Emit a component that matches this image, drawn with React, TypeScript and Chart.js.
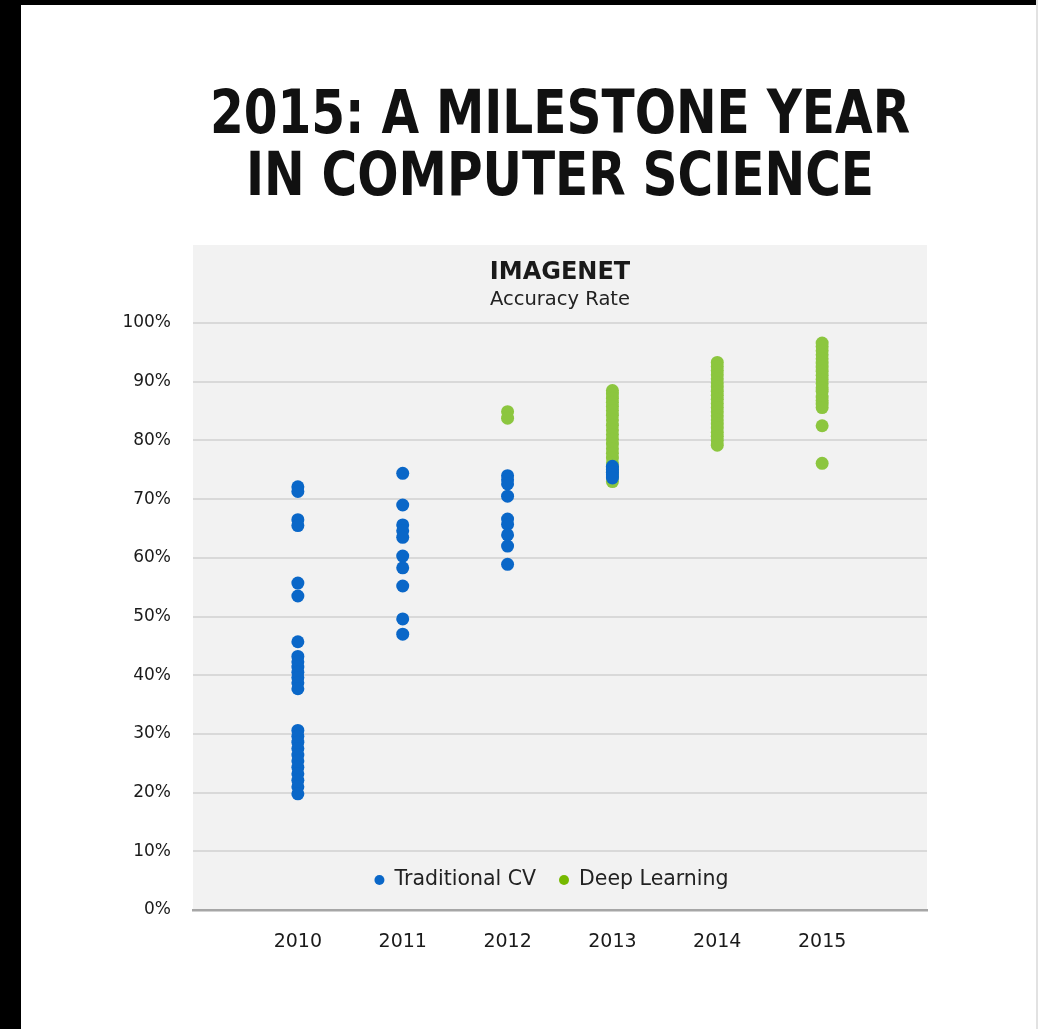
import React, { useEffect, useRef } from "react";
import { Chart, registerables } from "chart.js";

Chart.register(...registerables);

const titleLines = ["2015: A MILESTONE YEAR", "IN COMPUTER SCIENCE"];
const chartTitle = "IMAGENET";
const chartSubtitle = "Accuracy Rate";
const seriesNames = ["Traditional CV", "Deep Learning"];
const yearTicks = [2010, 2011, 2012, 2013, 2014, 2015];
const yTickValues = [0, 10, 20, 30, 40, 50, 60, 70, 80, 90, 100];

// Traditional CV accuracy (%) per year
const cv2010 = [72.1, 71.3, 66.5, 65.5, 55.7, 53.5, 45.7, 43.2, 42.3, 41.4, 40.5, 39.6, 38.7, 37.7, 30.6, 29.6, 28.6, 27.5, 26.4, 25.4, 24.3, 23.2, 22.1, 21.0, 19.8];
const cv2011 = [74.4, 69.0, 65.6, 64.6, 63.5, 60.3, 58.3, 55.2, 49.6, 47.0];
const cv2012 = [74.0, 73.3, 72.6, 70.5, 66.6, 65.7, 63.9, 62.0, 58.9];
const cv2013 = [75.6, 75.1, 74.6, 74.1, 73.6];

// Deep Learning accuracy (%) per year
const dl2012 = [84.9, 83.8];
const dl2013 = [88.5, 87.9, 87.2, 86.5, 85.8, 85.1, 84.3, 83.5, 82.6, 81.8, 81.0, 80.2, 79.4, 78.6, 77.8, 77.0, 76.2, 75.4, 74.6, 73.8, 73.0];
const dl2014 = [93.3, 92.6, 91.9, 91.2, 90.5, 89.8, 89.1, 88.4, 87.7, 87.0, 86.3, 85.6, 84.9, 84.2, 83.5, 82.8, 82.1, 81.4, 80.7, 80.0, 79.2];
const dl2015 = [96.6, 96.0, 95.3, 94.6, 93.9, 93.2, 92.5, 91.8, 91.1, 90.4, 89.7, 89.0, 88.4, 87.4, 86.8, 86.2, 85.6, 82.5, 76.1];

const BLUE = "#0a67c8";
const GREEN = "#8cc63f";
const LEGEND_GREEN = "#76b900";
const FONT = "'DejaVu Sans', sans-serif";

const toPoints = (year: number, vals: number[]) => vals.map((v) => ({ x: year, y: v }));

const bgPlugin = {
  id: "areaBg",
  beforeDraw(chart: any) {
    const { ctx, chartArea } = chart;
    ctx.save();
    ctx.fillStyle = "#f2f2f2";
    ctx.fillRect(chartArea.left, chartArea.top, chartArea.right - chartArea.left, chartArea.bottom - chartArea.top);
    ctx.restore();
  },
};

const textPlugin = {
  id: "areaText",
  afterDraw(chart: any) {
    const { ctx, chartArea } = chart;
    const cx = (chartArea.left + chartArea.right) / 2;
    ctx.save();
    ctx.textAlign = "center";
    ctx.textBaseline = "middle";
    ctx.fillStyle = "#1a1a1a";
    ctx.font = "bold 24px " + FONT;
    ctx.fillText(chartTitle, cx, chartArea.top + 28);
    ctx.font = "19.5px " + FONT;
    ctx.fillStyle = "#222";
    ctx.fillText(chartSubtitle, cx, chartArea.top + 55);

    // legend
    const ly = chartArea.bottom - 30;
    ctx.font = "20.5px " + FONT;
    ctx.textAlign = "left";
    const colors = [BLUE, LEGEND_GREEN];
    const w0 = ctx.measureText(seriesNames[0]).width;
    const w1 = ctx.measureText(seriesNames[1]).width;
    const gap = 28;
    const dotToText = 15;
    const total = 5 + dotToText + w0 + gap + dotToText + w1;
    let dotX = cx - 8.5 - total / 2 + 5;
    [w0, w1].forEach((w, i) => {
      ctx.fillStyle = colors[i];
      ctx.beginPath();
      ctx.arc(dotX, ly, 5, 0, Math.PI * 2);
      ctx.fill();
      ctx.fillStyle = "#222";
      ctx.fillText(seriesNames[i], dotX + dotToText, ly);
      dotX += dotToText + w + gap;
    });
    ctx.restore();
  },
};

export default function App() {
  const ref = useRef<HTMLCanvasElement | null>(null);

  useEffect(() => {
    if (!ref.current) return;
    const chart = new Chart(ref.current, {
      type: "scatter",
      data: {
        datasets: [
          {
            label: seriesNames[0],
            data: [
              ...toPoints(2010, cv2010),
              ...toPoints(2011, cv2011),
              ...toPoints(2012, cv2012),
              ...toPoints(2013, cv2013),
            ],
            backgroundColor: BLUE,
            borderColor: BLUE,
            borderWidth: 0,
            pointRadius: 6.5,
          },
          {
            label: seriesNames[1],
            data: [
              ...toPoints(2012, dl2012),
              ...toPoints(2013, dl2013),
              ...toPoints(2014, dl2014),
              ...toPoints(2015, dl2015),
            ],
            backgroundColor: GREEN,
            borderColor: GREEN,
            borderWidth: 0,
            pointRadius: 6.5,
          },
        ],
      },
      plugins: [bgPlugin, textPlugin],
      options: {
        animation: false,
        responsive: false,
        maintainAspectRatio: false,
        layout: { padding: { left: 0, top: 245, right: 111, bottom: 0 } },
        plugins: {
          legend: { display: false },
          tooltip: { enabled: false },
          title: { display: false },
        },
        scales: {
          x: {
            type: "linear",
            min: 2009,
            max: 2016,
            afterBuildTicks: (scale: any) => {
              scale.ticks = yearTicks.map((v) => ({ value: v }));
            },
            afterFit: (scale: any) => {
              scale.height = 119;
            },
            grid: { display: false, drawTicks: false },
            border: { display: true, color: "#a6a6a6", width: 2.5 },
            ticks: {
              padding: 21,
              color: "#1a1a1a",
              font: { family: FONT, size: 19 },
              callback: (v: any) => String(v),
            },
          },
          y: {
            min: 0,
            max: 113.3,
            afterBuildTicks: (scale: any) => {
              scale.ticks = yTickValues.map((v) => ({ value: v }));
            },
            afterFit: (scale: any) => {
              scale.width = 193;
            },
            grid: {
              drawTicks: false,
              lineWidth: 2,
              color: (c: any) => (c.tick && c.tick.value === 0 ? "rgba(0,0,0,0)" : "#d9d9d9"),
            },
            border: { display: false },
            ticks: {
              padding: 22,
              color: "#1a1a1a",
              font: { family: FONT, size: 17 },
              callback: (v: any) => v + "%",
            },
          },
        },
      },
    });
    return () => chart.destroy();
  }, []);

  return (
    <div style={{ position: "fixed", left: 0, top: 0, width: 1038, height: 1029, background: "#fff", overflow: "hidden" }}>
      <canvas ref={ref} width={1038} height={1029} style={{ position: "absolute", left: 0, top: 0, width: 1038, height: 1029 }} />
      <div
        style={{
          position: "absolute",
          left: 82,
          width: 956,
          top: 81,
          textAlign: "center",
          fontFamily: "'DejaVu Sans Condensed', 'DejaVu Sans', sans-serif",
          fontWeight: "bold",
          fontSize: 60,
          lineHeight: "62px",
          color: "#111",
          whiteSpace: "nowrap",
          transform: "scaleX(0.9)",
          transformOrigin: "478px 0",
        }}
      >
        {titleLines.map((t, i) => (
          <div key={i}>{t}</div>
        ))}
      </div>
      <div style={{ position: "absolute", left: 0, top: 0, width: 21, height: 1029, background: "#000" }} />
      <div style={{ position: "absolute", left: 0, top: 0, width: 1038, height: 5, background: "#000" }} />
      <div style={{ position: "absolute", left: 1036, top: 0, width: 2, height: 1029, background: "#e2e2e2" }} />
    </div>
  );
}
